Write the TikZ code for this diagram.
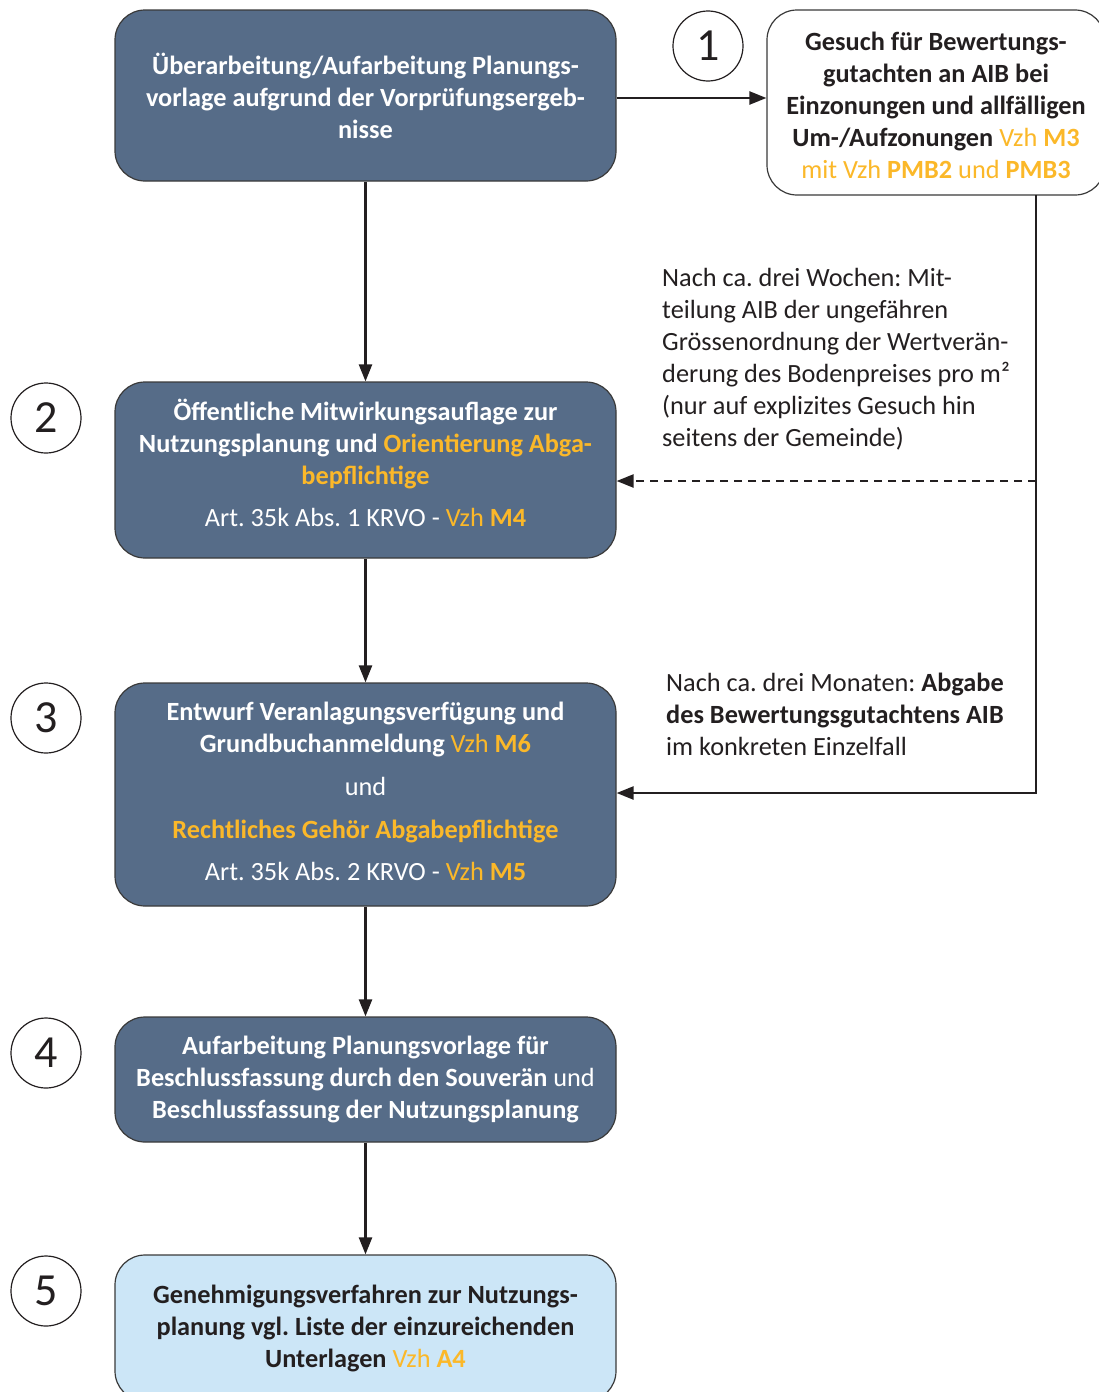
\documentclass[tikz,border=0pt]{standalone}
\usepackage{fontspec}
\setmainfont{Carlito}
\usetikzlibrary{arrows.meta}
\definecolor{boxblue}{HTML}{566C88}
\definecolor{boxlight}{HTML}{CCE6F7}
\definecolor{orng}{HTML}{FBB829}
\definecolor{ink}{HTML}{231F20}
\definecolor{edge}{HTML}{3A3A3A}
\frenchspacing
\begin{document}
\begin{tikzpicture}[x=1pt,y=-1pt,
  every node/.style={font=\fontsize{26.3}{32}\selectfont},
  basebox/.style={draw=edge, line width=1.2pt, rounded corners=30pt, align=center, inner sep=0pt},
  darkbox/.style={basebox, fill=boxblue, text=white, minimum width=501pt},
  lightbox/.style={basebox, fill=boxlight, text=ink, minimum width=501pt},
  whitebox/.style={basebox, fill=white, text=ink, minimum width=338pt},
  boxtext/.style={align=center, inner sep=0pt},
  numcirc/.style={circle, draw=ink, line width=1.2pt, minimum size=70pt, inner sep=0pt, text=ink, font=\fontsize{46}{46}\selectfont},
  note/.style={align=left, text=ink, inner sep=0pt, anchor=north west},
  conn/.style={draw=ink, line width=2.4pt, -{Triangle[length=17pt,width=13pt]}},
]
\useasboundingbox (0,0) rectangle (1099,1392);

% boxes
\node[darkbox, minimum height=171pt] (a) at (365.5,95.5)
  {\bfseries Überarbeitung/Aufarbeitung Planungs-\\
   \bfseries vorlage aufgrund der Vorprüfungsergeb-\\
   \bfseries nisse};
\node[whitebox, minimum height=185pt] (b1) at (936,102.5) {};
\node[boxtext, text=ink] (t1) at ([yshift=-3pt]b1.center)
  {\bfseries Gesuch für Bewertungs-\\
   \bfseries gutachten an AIB bei\\
   \bfseries Einzonungen und allfälligen\\
   \textbf{Um-/Aufzonungen} \textcolor{orng}{Vzh \textbf{M3}}\\
   \textcolor{orng}{mit Vzh \textbf{PMB2} und \textbf{PMB3}}};
\node[darkbox, minimum height=176pt] (b2) at (365.5,470) {};
\node[boxtext, text=white] (t2) at ([yshift=7pt]b2.center)
  {\bfseries Öffentliche Mitwirkungsauflage zur\\
   \bfseries Nutzungsplanung und \textcolor{orng}{Orientierung Abga-}\\
   \bfseries\textcolor{orng}{bepflichtige}\\[10pt]
   Art. 35k Abs. 1 KRVO - \textcolor{orng}{Vzh \textbf{M4}}};
\node[darkbox, minimum height=223pt] (b3) at (365.5,794.5) {};
\node[boxtext, text=white] (t3) at ([yshift=3pt]b3.center)
  {\bfseries Entwurf Veranlagungsverfügung und\\
   \textbf{Grundbuchanmeldung} \textcolor{orng}{Vzh \textbf{M6}}\\[11pt]
   und\\[11pt]
   \bfseries\textcolor{orng}{Rechtliches Gehör Abgabepflichtige}\\[10pt]
   Art. 35k Abs. 2 KRVO - \textcolor{orng}{Vzh \textbf{M5}}};
\node[darkbox, minimum height=125pt] (b4) at (365.5,1079.5)
  {\bfseries Aufarbeitung Planungsvorlage für\\
   \textbf{Beschlussfassung durch den Souverän} und\\
   \bfseries Beschlussfassung der Nutzungsplanung};
\node[lightbox, minimum height=146pt] (b5) at (365.5,1328)
  {\bfseries Genehmigungsverfahren zur Nutzungs-\\
   \bfseries planung vgl. Liste der einzureichenden\\
   \textbf{Unterlagen} \textcolor{orng}{Vzh \textbf{A4}}};

% number circles
\node[numcirc] (c1) at (708,46) {1};
\node[numcirc] (c2) at (46,418) {2};
\node[numcirc] (c3) at (46,718) {3};
\node[numcirc] (c4) at (46,1053) {4};
\node[numcirc] (c5) at (46,1291) {5};

% notes
\node[note] (n1) at (662,268.5)
  {Nach ca. drei Wochen: Mit-\\
   teilung AIB der ungefähren\\
   Grössenordnung der Wertverän-\\
   derung des Bodenpreises pro m²\\
   (nur auf explizites Gesuch hin\\
   seitens der Gemeinde)};
\node[note] (n2) at (666,673)
  {Nach ca. drei Monaten: \textbf{Abgabe}\\
   \textbf{des Bewertungsgutachtens AIB}\\
   im konkreten Einzelfall};

% connectors
\coordinate (h1) at (0,98);
\coordinate (r1) at (1036,195);
\coordinate (rd) at (1036,481);
\coordinate (r3) at (1036,793);
\draw[conn] (a.east |- h1) -- (b1.west |- h1);
\draw[conn] (a.south) -- (b2.north);
\draw[conn] (b2.south) -- (b3.north);
\draw[conn] (b3.south) -- (b4.north);
\draw[conn] (b4.south) -- (b5.north);
\draw[conn] (r1) -- (r3) -- (r3 -| b3.east);
\draw[conn, dashed, dash pattern=on 8pt off 6pt] (rd) -- (rd -| b2.east);
\end{tikzpicture}
\end{document}
